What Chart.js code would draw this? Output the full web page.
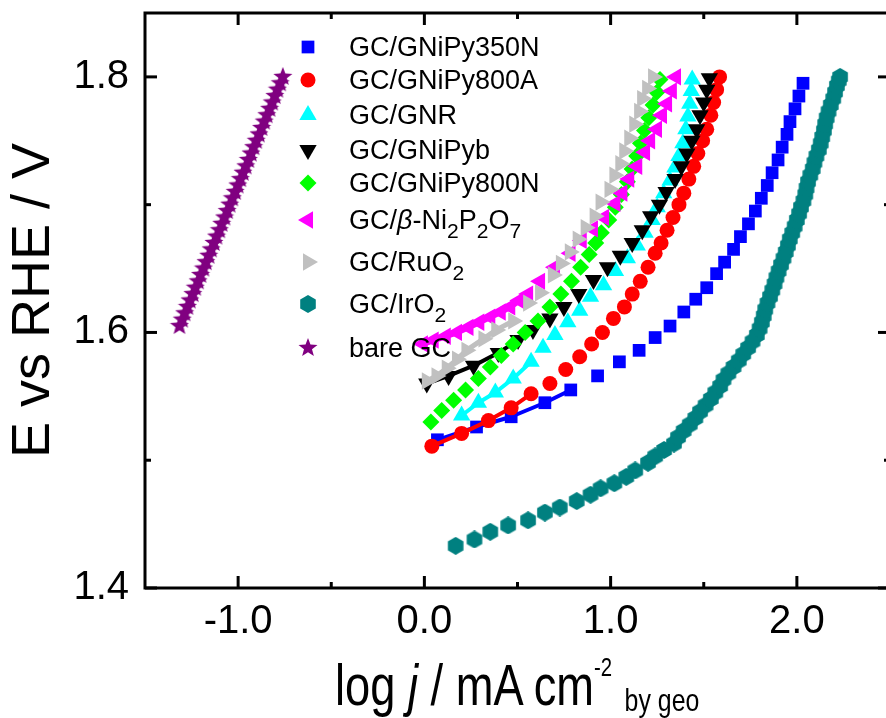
<!DOCTYPE html>
<html>
<head>
<meta charset="utf-8">
<title>Tafel plots</title>
<script src="https://cdn.jsdelivr.net/npm/chart.js@4.4.0/dist/chart.umd.min.js"></script>
<style>
  html, body { margin: 0; padding: 0; background: #fff; overflow: hidden; }
  #wrap { position: relative; width: 886px; height: 718px; overflow: hidden; }
  #chart { position: absolute; left: 0; top: 0; }
  .leg {
    position: absolute; left: 349px; white-space: nowrap; color: #000;
    font: 27px "Liberation Sans", Arial, sans-serif; line-height: 30px;
  }
  .leg sub { font-size: 0.78em; vertical-align: -0.45em; line-height: 0; }
  #xtitle {
    position: absolute; left: 335px; top: 656px; white-space: nowrap; color: #000;
    font: 58px "Liberation Sans", Arial, sans-serif; line-height: 58px;
    transform: scaleX(0.78); transform-origin: left top;
  }
  #xtitle sup { font-size: 0.45em; vertical-align: 1.1em; line-height: 0; }
  #xtitle .geo { font-size: 0.55em; vertical-align: -0.19em; line-height: 0; }
</style>
</head>
<body>
<div id="wrap">
  <canvas id="chart" width="900" height="718"></canvas>
  <div id="legend"></div>
  <div id="xtitle">log <i>j</i> / mA cm<sup>-2</sup> <span class="geo">by geo</span></div>
</div>
<script>
// log j (mA cm-2), E (V vs RHE)
const gniPy350N = [[0.07,1.516],[0.280,1.526],[0.466,1.534],[0.647,1.545],[0.786,1.555],[0.930,1.566],[1.047,1.577],[1.153,1.586],[1.239,1.596],[1.319,1.605],[1.393,1.616],[1.457,1.626],[1.516,1.635],[1.569,1.646],[1.612,1.655],[1.660,1.665],[1.697,1.675],[1.740,1.685],[1.777,1.695],[1.809,1.705],[1.841,1.715],[1.867,1.725],[1.899,1.735],[1.921,1.745],[1.947,1.755],[1.963,1.765],[1.990,1.775],[2.011,1.785],[2.033,1.795]];
const gniPy800A = [[0.040,1.511],[0.200,1.521],[0.344,1.531],[0.466,1.541],[0.573,1.552],[0.674,1.560],[0.759,1.571],[0.834,1.581],[0.898,1.591],[0.956,1.600],[1.015,1.611],[1.074,1.620],[1.116,1.630],[1.159,1.640],[1.201,1.651],[1.239,1.662],[1.271,1.670],[1.303,1.680],[1.335,1.690],[1.367,1.700],[1.393,1.709],[1.420,1.720],[1.446,1.730],[1.468,1.740],[1.494,1.750],[1.516,1.759],[1.538,1.770],[1.553,1.780],[1.569,1.790],[1.585,1.800]];
const gnr = [[0.200,1.535],[0.290,1.545],[0.381,1.553],[0.477,1.564],[0.573,1.577],[0.637,1.588],[0.701,1.598],[0.770,1.608],[0.834,1.617],[0.892,1.628],[0.962,1.637],[1.026,1.648],[1.090,1.658],[1.143,1.668],[1.185,1.678],[1.223,1.688],[1.250,1.698],[1.285,1.709],[1.319,1.719],[1.345,1.729],[1.367,1.738],[1.388,1.748],[1.404,1.759],[1.415,1.769],[1.425,1.779],[1.433,1.789],[1.438,1.798]];
const gniPyb = [[0.013,1.560],[0.130,1.566],[0.264,1.574],[0.397,1.584],[0.503,1.594],[0.583,1.602],[0.674,1.611],[0.749,1.620],[0.829,1.630],[0.908,1.641],[0.983,1.651],[1.052,1.660],[1.116,1.670],[1.170,1.680],[1.215,1.691],[1.262,1.700],[1.298,1.710],[1.346,1.720],[1.380,1.730],[1.409,1.740],[1.436,1.750],[1.462,1.759],[1.480,1.770],[1.500,1.780],[1.516,1.790],[1.530,1.799]];
const gniPy800N = [[0.035,1.530],[0.093,1.539],[0.157,1.547],[0.221,1.555],[0.290,1.564],[0.354,1.573],[0.413,1.582],[0.477,1.591],[0.541,1.600],[0.610,1.609],[0.674,1.620],[0.733,1.630],[0.790,1.640],[0.839,1.651],[0.885,1.661],[0.920,1.670],[0.950,1.678],[0.990,1.688],[1.025,1.698],[1.058,1.708],[1.090,1.718],[1.115,1.728],[1.140,1.738],[1.160,1.748],[1.182,1.758],[1.205,1.768],[1.228,1.778],[1.248,1.788],[1.265,1.798]];
const niP2O7 = [[-0.008,1.591],[0.050,1.594],[0.115,1.597],[0.175,1.600],[0.237,1.604],[0.295,1.608],[0.354,1.612],[0.410,1.616],[0.461,1.620],[0.510,1.625],[0.557,1.630],[0.621,1.640],[0.701,1.651],[0.785,1.662],[0.845,1.672],[0.905,1.681],[0.965,1.690],[1.026,1.701],[1.063,1.709],[1.100,1.720],[1.143,1.730],[1.185,1.741],[1.212,1.750],[1.249,1.759],[1.276,1.770],[1.303,1.779],[1.329,1.789],[1.351,1.800]];
const ruO2 = [[0.013,1.562],[0.065,1.566],[0.120,1.572],[0.175,1.579],[0.226,1.586],[0.317,1.595],[0.386,1.602],[0.477,1.609],[0.557,1.623],[0.621,1.631],[0.690,1.645],[0.733,1.654],[0.781,1.663],[0.823,1.673],[0.866,1.682],[0.914,1.691],[0.946,1.702],[0.994,1.712],[1.020,1.723],[1.052,1.732],[1.073,1.742],[1.100,1.752],[1.127,1.763],[1.153,1.773],[1.169,1.783],[1.196,1.791],[1.228,1.800]];
const irO2 = [[0.168,1.433],[0.269,1.438],[0.354,1.444],[0.450,1.449],[0.557,1.453],[0.647,1.459],[0.727,1.463],[0.818,1.468],[0.892,1.473],[0.946,1.478],[1.020,1.482],[1.084,1.487],[1.132,1.492],[1.201,1.498],[1.239,1.503],[1.287,1.508],[1.340,1.513],[1.362,1.518],[1.392,1.523],[1.425,1.528],[1.455,1.533],[1.480,1.538],[1.510,1.543],[1.538,1.548],[1.562,1.553],[1.588,1.558],[1.606,1.563],[1.632,1.568],[1.660,1.573],[1.688,1.578],[1.712,1.583],[1.738,1.588],[1.762,1.593],[1.785,1.598],[1.800,1.603],[1.812,1.608],[1.822,1.613],[1.830,1.618],[1.842,1.623],[1.856,1.628],[1.868,1.633],[1.880,1.638],[1.890,1.643],[1.902,1.648],[1.915,1.653],[1.928,1.658],[1.940,1.663],[1.952,1.668],[1.962,1.673],[1.975,1.678],[1.988,1.683],[2.000,1.688],[2.012,1.693],[2.022,1.698],[2.035,1.703],[2.045,1.708],[2.052,1.713],[2.060,1.718],[2.072,1.723],[2.085,1.728],[2.094,1.733],[2.105,1.738],[2.118,1.743],[2.128,1.748],[2.136,1.753],[2.145,1.758],[2.152,1.763],[2.160,1.768],[2.170,1.773],[2.182,1.778],[2.195,1.783],[2.205,1.788],[2.215,1.793],[2.225,1.797],[2.232,1.800]];
const bareGC = [[-1.315,1.605],[-1.300,1.610],[-1.287,1.615],[-1.272,1.620],[-1.259,1.625],[-1.243,1.630],[-1.230,1.635],[-1.215,1.640],[-1.202,1.645],[-1.186,1.650],[-1.173,1.655],[-1.158,1.660],[-1.145,1.665],[-1.130,1.670],[-1.116,1.675],[-1.101,1.680],[-1.088,1.685],[-1.073,1.690],[-1.059,1.695],[-1.045,1.700],[-1.031,1.705],[-1.016,1.710],[-1.002,1.715],[-0.988,1.720],[-0.974,1.725],[-0.959,1.730],[-0.945,1.735],[-0.931,1.740],[-0.917,1.745],[-0.903,1.750],[-0.888,1.755],[-0.874,1.760],[-0.860,1.765],[-0.846,1.770],[-0.831,1.775],[-0.817,1.780],[-0.803,1.785],[-0.789,1.790],[-0.774,1.795],[-0.760,1.800]];

const legendLabels = [
  'GC/GNiPy350N', 'GC/GNiPy800A', 'GC/GNR', 'GC/GNiPyb', 'GC/GNiPy800N',
  'GC/<i>&beta;</i>-Ni<sub>2</sub>P<sub>2</sub>O<sub>7</sub>',
  'GC/RuO<sub>2</sub>', 'GC/IrO<sub>2</sub>', 'bare GC'
];

const xTickValues = [-1, 0, 1, 2];
const xTickLabels = ['-1.0', '0.0', '1.0', '2.0'];
const xMinorTicks = [-0.5, 0.5, 1.5];
const yTickValues = [1.4, 1.6, 1.8];
const yTickLabels = ['1.4', '1.6', '1.8'];
const yMinorTicks = [1.5, 1.7];

const FONT = '"Liberation Sans", Arial, sans-serif';

// filled hexagon / star sprites for the two styles Chart.js lacks
function sprite(kind, size, color) {
  const c = document.createElement('canvas');
  c.width = c.height = size;
  const g = c.getContext('2d');
  const r = size / 2;
  g.fillStyle = color;
  g.beginPath();
  if (kind === 'hex') {
    for (let k = 0; k < 6; k++) {
      const a = -Math.PI / 2 + k * Math.PI / 3;
      g.lineTo(r + r * Math.cos(a), r + r * Math.sin(a));
    }
  } else {
    for (let k = 0; k < 10; k++) {
      const a = -Math.PI / 2 + k * Math.PI / 5;
      const rr = k % 2 ? r * 0.42 : r;
      g.lineTo(r + rr * Math.cos(a), r + rr * Math.sin(a));
    }
  }
  g.closePath();
  g.fill();
  return c;
}

const series = [
  { pts: gniPy350N, color: '#0000ff', style: 'rect', radius: 9, rot: 0, joined: 5, lw: 4 },
  { pts: gniPy800A, color: '#ff0000', style: 'circle', radius: 7.5, rot: 0, joined: 5, lw: 4 },
  { pts: gnr, color: '#00ffff', style: 'triangle', radius: 10, rot: 0, joined: 5, lw: 4 },
  { pts: gniPyb, color: '#000000', style: 'triangle', radius: 10, rot: 180, joined: 6, lw: 4 },
  { pts: gniPy800N, color: '#00ff00', style: 'rectRot', radius: 8.5, rot: 0, joined: 0, lw: 0 },
  { pts: niP2O7, color: '#ff00ff', style: 'triangle', radius: 10, rot: -90, joined: 11, lw: 6 },
  { pts: ruO2, color: '#c0c0c0', style: 'triangle', radius: 10, rot: 90, joined: 8, lw: 5 },
  { pts: irO2, color: '#008080', style: sprite('hex', 18, '#008080'), radius: 9, rot: 0, joined: 0, lw: 0 },
  { pts: bareGC, color: '#800080', style: sprite('star', 20, '#800080'), radius: 10, rot: 0, joined: 0, lw: 0 }
];

const legendRows = [47, 80, 115, 150, 183, 220, 262, 304, 348];
const legendMarkX = 308;

document.getElementById('legend').innerHTML = legendLabels
  .map((t, i) => `<div class="leg" style="top:${legendRows[i] - 15}px">${t}</div>`)
  .join('');

function pickLabel(values, labels) {
  return v => {
    const i = values.findIndex(t => Math.abs(t - v) < 1e-6);
    return i < 0 ? '' : labels[i];
  };
}

// box frame, inward ticks on all four sides, legend markers
const frame = {
  id: 'frame',
  afterDatasetsDraw(chart) {
    const { ctx, chartArea: a, scales: { x, y } } = chart;
    ctx.save();
    ctx.strokeStyle = '#000';
    ctx.lineWidth = 3;
    ctx.strokeRect(a.left, a.top, a.right - a.left, a.bottom - a.top);
    const tick = (x0, y0, x1, y1) => { ctx.beginPath(); ctx.moveTo(x0, y0); ctx.lineTo(x1, y1); ctx.stroke(); };
    const xt = (v, len) => {
      const px = x.getPixelForValue(v);
      tick(px, a.bottom, px, a.bottom - len);
      tick(px, a.top, px, a.top + len);
    };
    const yt = (v, len) => {
      const py = y.getPixelForValue(v);
      tick(a.left, py, a.left + len, py);
      tick(a.right, py, a.right - len, py);
    };
    xTickValues.forEach(v => xt(v, 12));
    xMinorTicks.forEach(v => xt(v, 6));
    yTickValues.forEach(v => yt(v, 12));
    yMinorTicks.forEach(v => yt(v, 6));
    ctx.restore();

    series.forEach((s, i) => {
      ctx.save();
      ctx.fillStyle = s.color;
      Chart.helpers.drawPoint(ctx, { pointStyle: s.style, radius: s.radius, rotation: s.rot, borderWidth: 0 }, legendMarkX, legendRows[i]);
      ctx.restore();
    });
  }
};

new Chart(document.getElementById('chart'), {
  type: 'scatter',
  data: {
    datasets: series.map((s, i) => ({
      data: s.pts.map(([x, y]) => ({ x, y })),
      showLine: s.joined > 0,
      borderColor: s.color,
      borderWidth: s.lw,
      borderJoinStyle: 'round',
      borderCapStyle: 'round',
      segment: { borderColor: c => (c.p1DataIndex < s.joined ? s.color : 'transparent') },
      pointStyle: s.style,
      pointRadius: s.radius,
      pointHoverRadius: s.radius,
      pointRotation: s.rot,
      pointBackgroundColor: s.color,
      pointBorderWidth: 0,
      order: series.length - i
    }))
  },
  options: {
    responsive: false,
    animation: false,
    devicePixelRatio: 1,
    layout: { padding: { top: 13, right: 7, left: 0, bottom: 0 } },
    plugins: { legend: { display: false }, tooltip: { enabled: false } },
    scales: {
      x: {
        type: 'linear', min: -1.5, max: 2.5,
        border: { display: false },
        grid: { display: false },
        ticks: {
          stepSize: 0.5, autoSkip: false, maxRotation: 0, padding: 2, color: '#000',
          font: { family: FONT, size: 40 },
          callback: pickLabel(xTickValues, xTickLabels)
        },
        afterFit(s) { s.height = 130; s.paddingLeft = 0; s.paddingRight = 0; }
      },
      y: {
        type: 'linear', min: 1.4, max: 1.85,
        border: { display: false },
        grid: { display: false },
        ticks: {
          stepSize: 0.1, autoSkip: false, padding: 8, color: '#000',
          font: { family: FONT, size: 40 },
          callback: pickLabel(yTickValues, yTickLabels)
        },
        title: {
          display: true, text: 'E vs RHE / V', color: '#000',
          font: { family: FONT, size: 54 }, padding: { top: 2, bottom: 0 }
        },
        afterFit(s) { s.width = 145; s.paddingTop = 0; s.paddingBottom = 0; }
      }
    }
  },
  plugins: [frame]
});
</script>
</body>
</html>
